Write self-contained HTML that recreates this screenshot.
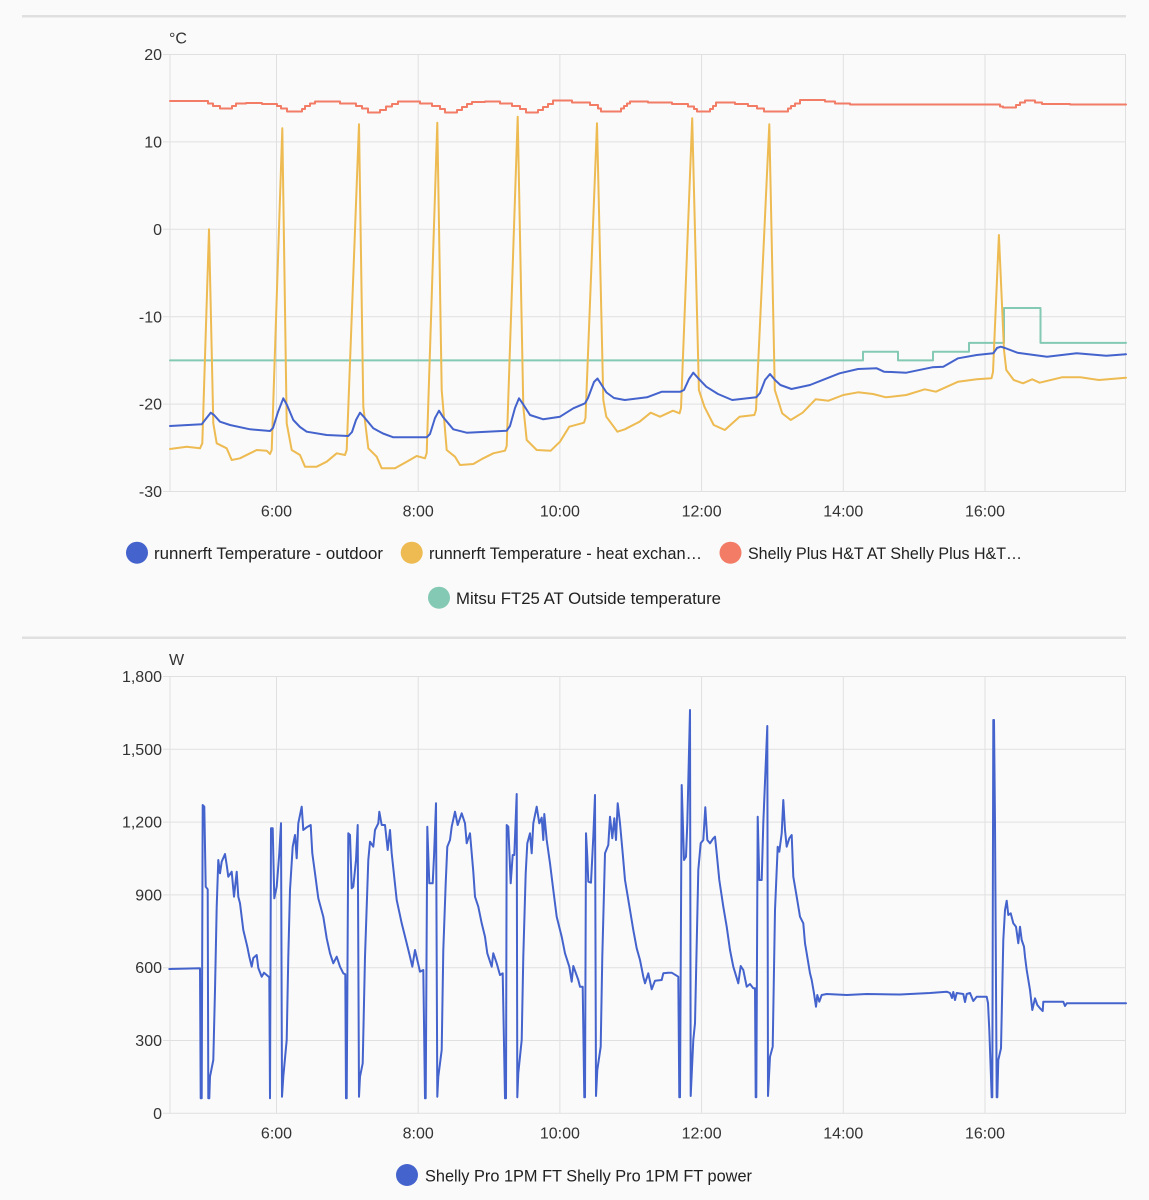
<!DOCTYPE html>
<html><head><meta charset="utf-8"><style>
html,body{margin:0;padding:0;background:#fafafa;}
svg{display:block;}
text{font-family:"Liberation Sans",Arial,sans-serif;}
</style></head><body>
<svg width="1149" height="1200" viewBox="0 0 1149 1200" xmlns="http://www.w3.org/2000/svg">
<rect width="1149" height="1200" fill="#fafafa"/>
<!-- separators -->
<rect x="22" y="15" width="1104" height="2.5" fill="#e0e0e0"/>
<rect x="22" y="636.5" width="1104" height="2.5" fill="#e0e0e0"/>

<!-- TOP CHART grid -->
<g stroke="#e0e0e0" stroke-width="1" fill="none">
<path d="M163,54.5H1126M163,141.9H1126M163,229.3H1126M163,316.7H1126M163,404.1H1126M163,491.5H1126"/>
<path d="M170,54.5V491.5M276.5,54.5V491.5M418.2,54.5V491.5M559.9,54.5V491.5M701.6,54.5V491.5M843.3,54.5V491.5M985,54.5V491.5M1125.5,54.5V491.5"/>
</g>
<g font-size="16" fill="#333" text-anchor="end">
<text x="162" y="60">20</text>
<text x="162" y="147.5">10</text>
<text x="162" y="235">0</text>
<text x="162" y="322.3">-10</text>
<text x="162" y="409.7">-20</text>
<text x="162" y="497">-30</text>
</g>
<text x="169" y="43.5" font-size="16" fill="#333">°C</text>
<g font-size="16" fill="#333" text-anchor="middle">
<text x="276.5" y="516.5">6:00</text>
<text x="418.2" y="516.5">8:00</text>
<text x="559.9" y="516.5">10:00</text>
<text x="701.6" y="516.5">12:00</text>
<text x="843.3" y="516.5">14:00</text>
<text x="985" y="516.5">16:00</text>
</g>

<!-- series top -->
<g fill="none" stroke-width="2" stroke-linejoin="round" stroke-linecap="round">
<path stroke="#f27c65" d="M170,101 H208 V103.5 H213 V106 H220 V108.5 H232 V106 H236 V103.5 H246 V103 H262 V104 H277 V106 H281 V108.5 H287 V111.5 H302 V109 H305 V106 H310 V103.5 H315 V101.5 H340 V103.5 H356 V106 H362 V108.5 H368 V112.5 H380 V110 H386 V106.5 H392 V104 H398 V101.5 H420 V103.5 H432 V106 H440 V109 H445 V112.5 H457 V110 H462 V107 H467 V104 H472 V102 H485 V101.5 H500 V103.5 H512 V106 H520 V109 H526 V112.5 H538 V110 H543 V107 H548 V104 H553 V100.5 H572 V102.5 H590 V105 H598 V108.5 H601 V111.5 H621 V108.5 H624 V106 H627 V103.5 H630 V101.5 H648 V102.5 H672 V104 H688 V106.5 H694 V109 H697 V111.5 H710 V109 H713 V106 H716 V102.5 H735 V104 H748 V106 H757 V108.5 H764 V111.5 H788 V108.5 H791 V106 H795 V103.5 H800 V100 H825 V101.5 H835 V103.5 H850 V104.5 H1000 V106.5 H1003 V107.5 H1016 V105 H1020 V102.5 H1025 V100.5 H1035 V102.5 H1042 V104 H1070 V104.5 H1126"/>
<path stroke="#84c9b3" d="M170,360.4 H863 V351.7 H898 V360.4 H933 V351.7 H969 V342.9 H1004 V308 H1040.5 V342.9 H1126"/>
<path stroke="#edbb52" d="M170,449 L186.7,446.7 L200,448.3 L202.3,443.3 L209,229.3 L213.3,423.3 L216.7,443.3 L226.7,448.3 L231.7,460 L240,458.3 L250,453.3 L256.7,450 L266.7,450.7 L270,454 L271.7,450 L282.3,128.3 L286.7,423.3 L291.7,450 L300,455 L305,466.7 L316.7,466.7 L326.7,461.7 L336.7,453.3 L345,455 L346.7,450 L359,124.3 L363.3,406.7 L368.3,448.3 L376.7,456.7 L381.7,468.3 L395,468.3 L406.7,461.7 L416.7,456 L425,458.3 L426.7,453 L437.3,122.7 L441.7,390 L446.7,450 L455,456.7 L460,465 L473.3,464 L483.3,458.3 L493.3,453.3 L505,450.7 L506.7,446 L517.7,116.7 L523.3,406.7 L526.7,440 L536.7,450 L550.7,450.7 L560,441.7 L569.3,426.7 L584,422.7 L585.5,418 L597,123.3 L603.3,400 L606.3,416.7 L617.4,431.7 L624.8,429.3 L639.6,421.7 L650.7,412.7 L660,416.7 L673,410.7 L679.6,413.3 L681,408 L692.2,118.3 L698.9,390 L704.4,406.7 L713.7,425 L724.8,430 L739.6,416.7 L754.4,415 L756,410 L769.3,124.3 L774.8,390 L782.2,413.3 L790.7,420 L802.6,412.7 L815.6,399.3 L828.5,400.7 L843.3,395 L858.1,392.3 L873,394 L885.9,397.3 L906.3,395 L924.8,389.3 L935.9,391.7 L947,386.7 L958.1,381.7 L976.7,379.3 L991.5,378.3 L993,372 L998.9,235 L1004,350 L1006.3,370 L1013.7,380 L1023,383.3 L1032.2,379.3 L1039.6,382.7 L1061.9,377.3 L1080.4,377.3 L1098.9,380 L1126,377.7"/>
<path stroke="#4463cc" d="M170,426 L201.7,424.3 L205,420 L210.7,412.7 L214,415 L220,421.7 L230,425 L250,429.3 L270,431 L273,428 L278,412 L283.3,398.3 L287,405 L293.3,420 L300,427 L306.7,431.7 L326.7,435 L348.3,436 L352,432 L356,420 L360,412.7 L364,417 L373.3,428.3 L383,433.5 L393.3,437.3 L426.7,437.3 L430,434 L435,418 L439,410.7 L443,417 L453.3,429.3 L466.7,432.7 L506.7,430.7 L510,426 L515,408 L519,398.3 L523,404 L530,415 L543.3,419.3 L560,416.7 L573.3,408.3 L585,403.3 L588,398 L594,382 L597.5,378.5 L601,384 L606.5,392.5 L614,398 L624.8,400 L647,397.3 L661.9,391.7 L680.4,391.7 L684,390 L689,379 L693.3,372.7 L698,378 L706.3,386.7 L718,394 L732.2,400 L756.3,397.3 L760,393 L765,380 L770,374 L775,380 L780.4,385 L791.5,389 L810,385 L839.6,373.3 L858.1,369 L876.7,368.3 L884,371.7 L906.3,372.7 L932.2,367.3 L943.3,366.7 L958.1,358.3 L976.7,355 L993.3,353.3 L997,348 L1000.7,346.7 L1005,348 L1017.4,352.7 L1047,356.7 L1076.7,353.3 L1106.3,355.7 L1126,354.3"/>
</g>

<!-- top legend -->
<circle cx="137" cy="552.7" r="11" fill="#4463cc"/>
<text x="154" y="559" font-size="16.5" fill="#212121" textLength="229" lengthAdjust="spacingAndGlyphs">runnerft Temperature - outdoor</text>
<circle cx="411.7" cy="552.7" r="11" fill="#edbb52"/>
<text x="429" y="559" font-size="16.5" fill="#212121" textLength="273" lengthAdjust="spacingAndGlyphs">runnerft Temperature - heat exchan…</text>
<circle cx="730.5" cy="552.7" r="11" fill="#f27c65"/>
<text x="748" y="559" font-size="16.5" fill="#212121" textLength="274" lengthAdjust="spacingAndGlyphs">Shelly Plus H&amp;T AT Shelly Plus H&amp;T…</text>
<circle cx="439" cy="597.7" r="11" fill="#84c9b3"/>
<text x="456" y="604" font-size="16.5" fill="#212121" textLength="265" lengthAdjust="spacingAndGlyphs">Mitsu FT25 AT Outside temperature</text>

<!-- BOTTOM CHART grid -->
<g stroke="#e0e0e0" stroke-width="1" fill="none">
<path d="M163,676.5H1126M163,749.3H1126M163,822.1H1126M163,894.9H1126M163,967.7H1126M163,1040.5H1126M163,1113.3H1126"/>
<path d="M170,676.5V1113.3M276.5,676.5V1113.3M418.2,676.5V1113.3M559.9,676.5V1113.3M701.6,676.5V1113.3M843.3,676.5V1113.3M985,676.5V1113.3M1125.5,676.5V1113.3"/>
</g>
<g font-size="16" fill="#333" text-anchor="end">
<text x="162" y="682">1,800</text>
<text x="162" y="754.8">1,500</text>
<text x="162" y="827.6">1,200</text>
<text x="162" y="900.4">900</text>
<text x="162" y="973.2">600</text>
<text x="162" y="1046">300</text>
<text x="162" y="1118.8">0</text>
</g>
<text x="169" y="665" font-size="16" fill="#333">W</text>
<g font-size="16" fill="#333" text-anchor="middle">
<text x="276.5" y="1138.3">6:00</text>
<text x="418.2" y="1138.3">8:00</text>
<text x="559.9" y="1138.3">10:00</text>
<text x="701.6" y="1138.3">12:00</text>
<text x="843.3" y="1138.3">14:00</text>
<text x="985" y="1138.3">16:00</text>
</g>

<path fill="none" stroke="#4463cc" stroke-width="2" stroke-linejoin="round" stroke-linecap="round" d="M169.3,969 L200,968.3 L200.7,1098.3 L201.7,1098.3 L202.7,805 L204.3,806.7 L205.7,886.7 L207.7,889.3 L208.3,1098.3 L209.3,1098.3 L210,1076.7 L213.3,1060 L215,990 L216.7,906.7 L218.3,860 L220,873.3 L221.7,861.7 L225,854 L226.7,865 L228.3,876.7 L231.7,871.7 L234,896.7 L236.7,871.7 L238.3,896.7 L240,903.3 L243.3,930 L247.3,946.7 L249.3,956.7 L251.7,966.7 L253.3,958 L256.7,955 L258.3,968 L261.7,976.7 L264,972.7 L269.3,977.3 L270,1098.3 L271,828.3 L272.7,828.3 L274.3,898.3 L276.7,886.7 L279.3,853.3 L281,823.3 L282,1096.7 L283.3,1076.7 L286.7,1040 L288.3,956.7 L290,890 L292.7,846.7 L295,835 L296.7,858.3 L298.3,823.3 L301.7,806.7 L303.3,830 L306.7,827.3 L310.7,825 L312.3,853.3 L315,873.3 L318.3,898.3 L323.3,916.7 L326.7,938.3 L330,953.3 L333.3,963.3 L336.7,956.7 L340,966.7 L343.3,973.3 L345.3,974.3 L346,1098.3 L346.7,1098.3 L348.3,833.3 L350,835 L351.7,888.3 L353.3,886.7 L356,860 L357.7,825 L359,1096.7 L360,1076.7 L362.7,1063.3 L365,956.7 L368.3,860 L370,841.7 L373.3,846.7 L375,830 L378.3,823.3 L379.3,811.7 L381.7,825 L385,825 L387.7,850 L390,830 L391.7,853.3 L396.7,900 L401.7,923.3 L406.7,943.3 L410,956.7 L412.3,966.7 L415,950 L417.3,960 L420,971.7 L423.3,970 L425,1098.3 L425.7,1098.3 L427.3,826.7 L429.3,883.3 L432.7,883.3 L434,856.7 L436,803.3 L437.3,1096.7 L438.3,1076.7 L441.7,1050 L443.3,950 L445.7,883.3 L447.3,846.7 L450,840 L451.7,826.7 L455,811.7 L457.7,825 L461.7,813.3 L465,823.3 L466.7,843.3 L470,833.3 L473.3,871.7 L475,896.7 L478.3,906.7 L481.7,923.3 L485,936.7 L487.3,953.3 L491.7,966.7 L493.3,953.3 L496.7,963.3 L500,975 L502.7,973.3 L505,1098.3 L506,1098.3 L506.7,825 L508.3,826.7 L510.7,883.3 L512.7,855 L514.3,855 L516.7,794 L517.3,1097.3 L518.3,1073 L521.7,1040 L523.3,956.7 L525.7,873.3 L527.3,843.3 L530,833.3 L531.7,853.3 L533.3,823.3 L536.7,806.7 L539.3,823.3 L541.7,817.7 L543.3,840 L544.3,814 L546.7,840 L550,863.3 L553.3,890 L556.7,916.7 L561.7,936.7 L565,953.3 L569.3,966.7 L571.7,981.7 L573.3,966 L578.3,980 L580,986.7 L582.7,986.7 L584.3,1097.3 L585,1097.3 L586,833.3 L587.3,856.7 L588.3,881.7 L591,882.7 L593.3,836.7 L595,795 L596,1096 L597.3,1070 L600.7,1046.7 L602.3,956.7 L605,853.3 L608.3,845 L610,816.7 L612.3,838.3 L614.3,818.3 L616,840 L617.7,803.3 L620,823.3 L622.7,853.3 L625,880 L630,910 L633.3,930 L636.7,948.3 L640,960 L643.3,976.7 L645,983.3 L648.3,973.3 L651.7,989.3 L655,980.7 L661.7,980 L663.3,973.3 L668.3,972.7 L671.7,972.7 L678.3,976.7 L679.3,1097.3 L680,1097.3 L681.7,785 L684,860 L686,856.7 L687.3,823.3 L690,710 L690.7,1096 L693.3,1040 L695,1023.3 L698.3,870 L700.7,843.3 L703.3,840 L705.3,807.3 L707.3,840 L710,843.3 L713.3,838.3 L715,836.7 L716.7,853.3 L719.3,880 L723.3,906.7 L726.7,926.7 L730,950 L733.3,966.7 L738.3,983.3 L740.7,966 L743.3,970 L746.7,986.7 L750,984 L753.3,988.3 L755,988.3 L755.7,1097.3 L756.3,1097.3 L757.7,816.7 L759.3,880 L761.7,880 L763.3,823.3 L767.3,726 L768,1096 L770,1056.7 L772.7,1046.7 L775,910 L777.7,846.7 L779.3,851.7 L781.7,833.3 L783.3,800 L785,830 L786.7,846.7 L789.3,838.3 L791.7,835 L793.3,876.7 L796.7,896.7 L800,916.7 L803.3,923.3 L805,943.3 L806.7,953.3 L810,973.3 L811.7,980 L814,993.3 L816,1006.7 L817.3,995 L819.3,1001.7 L821.7,995 L826.7,994 L846.7,995 L866.7,994 L900,994.5 L930,993 L946.7,991.7 L950,993 L952,998 L953.3,992 L955,1000 L956.7,993 L963.3,994 L965,1002 L966.7,994 L970,993 L973.3,1001 L976.7,996.7 L986.7,996.7 L988,1003 L989.3,1030 L991.7,1097.3 L992.3,1097.3 L993.3,720 L994,720 L995,823.3 L996.7,1097.3 L997.3,1097.3 L998.3,1060 L1001,1048.3 L1003.3,940 L1005,910 L1006.7,900.7 L1008.3,915 L1010.7,913.3 L1013.3,923.3 L1016,926.7 L1018.3,943.3 L1020,926.7 L1021.7,940 L1024,946.7 L1025,956.7 L1026.7,970 L1030,990 L1032.3,1010 L1035,998.3 L1037.3,1005 L1040,1008.3 L1042.7,1011 L1043.3,1001.7 L1063.3,1001.7 L1065,1006 L1066.7,1003.3 L1126,1003.3"/>

<!-- bottom legend -->
<circle cx="407" cy="1175" r="11" fill="#4463cc"/>
<text x="425" y="1181.3" font-size="16.5" fill="#212121" textLength="327" lengthAdjust="spacingAndGlyphs">Shelly Pro 1PM FT Shelly Pro 1PM FT power</text>
</svg>
</body></html>
